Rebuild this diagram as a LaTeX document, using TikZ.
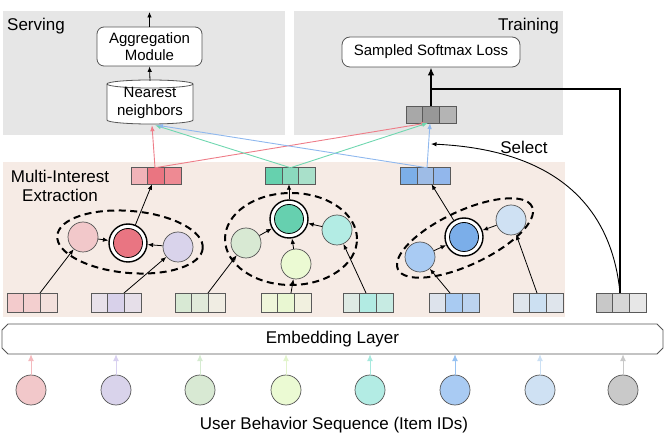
\documentclass[tikz,border=0pt]{standalone}
\usepackage{fontspec}
\setmainfont{Liberation Sans}
\usetikzlibrary{arrows.meta}
\definecolor{graybg}{HTML}{E6E6E6}
\definecolor{peach}{HTML}{F6EBE5}
\definecolor{cellb}{HTML}{5A5A5A}
\definecolor{circb}{HTML}{555555}
\definecolor{pinkc}{HTML}{F2C8CA}
\definecolor{redc}{HTML}{E97582}
\definecolor{lavc}{HTML}{D9D3EB}
\definecolor{lgreen}{HTML}{D8E9D3}
\definecolor{greenc}{HTML}{66D0AF}
\definecolor{ygreen}{HTML}{EBFAD3}
\definecolor{cyanc}{HTML}{B3ECE4}
\definecolor{blueb}{HTML}{A9CBF3}
\definecolor{bluec}{HTML}{7BAEE9}
\definecolor{paleb}{HTML}{CFE1F3}
\definecolor{grayc}{HTML}{C9C9C9}
\definecolor{redl}{HTML}{EE7D88}
\definecolor{greenl}{HTML}{6FD7B0}
\definecolor{bluel}{HTML}{8FB8EE}
\definecolor{a1}{HTML}{F4B9BD}
\definecolor{a2}{HTML}{D8D0F0}
\definecolor{a3}{HTML}{D5EBD0}
\definecolor{a4}{HTML}{E2F4CC}
\definecolor{a5}{HTML}{A6E9DE}
\definecolor{a6}{HTML}{97C2F2}
\definecolor{a7}{HTML}{CBE0F4}
\definecolor{a8}{HTML}{C8C8C8}
\newcommand{\vthree}[7]{%
  \definecolor{cla}{HTML}{#4}\definecolor{clb}{HTML}{#5}\definecolor{clc}{HTML}{#6}%
  \node[cell,fill=cla,minimum height=#7] at (#2-16.67,#3) {};
  \node[cell,fill=clb,minimum height=#7] at (#2,#3) {};
  \node[cell,fill=clc,minimum height=#7] at (#2+16.67,#3) {};
  \node[vbox,minimum height=#7] (#1) at (#2,#3) {};}
\begin{document}
\begin{tikzpicture}[x=1pt,y=-1pt,
  cell/.style={draw=cellb, line width=0.8pt, minimum width=16.67pt, inner sep=0pt, outer sep=0pt},
  vbox/.style={minimum width=50pt, inner sep=0pt, outer sep=0pt},
  circ/.style={circle, draw=circb, line width=0.7pt, minimum size=30pt, inner sep=0pt},
  dout/.style={circle, draw=black, line width=1.4pt, fill=white, minimum size=38pt, inner sep=0pt},
  din/.style={circle, draw=black, line width=0.8pt, minimum size=29pt, inner sep=0pt},
  arr/.style={-{Latex[length=5.5pt,width=4.5pt]}, line width=0.8pt},
  carr/.style={-{Latex[length=6pt,width=4.5pt]}, line width=0.9pt},
  barr/.style={-{Latex[length=7pt,width=6pt]}, line width=1pt},
  dashell/.style={line width=2pt, dash pattern=on 7pt off 4.5pt},
  lab/.style={font=\fontsize{17}{18.5}\selectfont, inner sep=0pt},
  btxt/.style={font=\fontsize{15}{17.5}\selectfont, align=center, inner sep=0pt},
  rbox/.style={draw=circb, line width=0.8pt, rounded corners=7pt, fill=white, align=center, font=\fontsize{15}{17.5}\selectfont, inner sep=0pt}]
\useasboundingbox (0,0) rectangle (664,443);
% backgrounds
\fill[graybg] (3,11) rectangle (285,135);
\fill[graybg] (294,11) rectangle (563,135);
\fill[peach] (3,162) rectangle (565,317);
\node[lab, anchor=west] (serv) at (7,26) {Serving};
\node[lab, anchor=east] (train) at (559,26) {Training};
\node[lab, align=center] (mie) at (60,186) {Multi-Interest\\Extraction};
% serving
\node[rbox, minimum width=105pt, minimum height=39pt] (agg) at (149.5,46.5) {Aggregation\\Module};
\coordinate (aggout) at (149.5,12);
\draw[arr] (agg.north) -- (aggout);
\draw[fill=white, draw=circb, line width=0.8pt] (107,84) -- (107,120) arc[start angle=180, end angle=360, x radius=43pt, y radius=4pt] -- (193,84) arc[start angle=0, end angle=180, x radius=43pt, y radius=4pt] -- cycle;
\draw[draw=circb, line width=0.8pt] (107,84) arc[start angle=180, end angle=360, x radius=43pt, y radius=4pt];
\node[btxt, minimum width=86pt, minimum height=44pt] (nn) at (150,103) {Nearest\\neighbors};
\draw[arr] (nn.north) -- (agg.south);
% training
\node[rbox, minimum width=178pt, minimum height=30pt, rounded corners=8pt] (sm) at (431,52) {Sampled Softmax Loss};
\vthree{tv}{431}{114.5}{A8A8A8}{989898}{B4B4B4}{17pt}
% interest vectors
\vthree{rv}{156}{176}{F1B3B8}{EA7581}{EE8A93}{16.5pt}
\vthree{gv}{290.5}{176}{66D1AE}{8BD9BE}{A9E0CA}{16.5pt}
\vthree{bv}{425.5}{176}{7CAFE8}{9EBCE6}{92B7EC}{16.5pt}
% cross lines
\draw[carr, redl] ([xshift=-1pt]rv.north) -- ([xshift=2pt]nn.south);
\draw[carr, redl] ([xshift=-1pt]rv.north) -- ([xshift=-4pt]tv.south);
\draw[carr, greenl] (gv.north) -- ([xshift=5pt]nn.south);
\draw[carr, greenl] (gv.north) -- ([xshift=-3pt]tv.south);
\draw[carr, bluel] ([xshift=1.5pt]bv.north) -- ([xshift=7pt]nn.south);
\draw[carr, bluel] ([xshift=1.5pt]bv.north) -- ([xshift=-1pt]tv.south);
% dashed ellipses
\draw[dashell, rotate around={-5:(130,242)}] (130,242) ellipse[x radius=73pt, y radius=31pt];
\draw[dashell] (291,239) ellipse[x radius=66pt, y radius=46pt];
\draw[dashell, rotate around={25:(465,238)}] (465,238) ellipse[x radius=74pt, y radius=27pt];
% group 1
\node[circ, fill=pinkc] (pk) at (83,237) {};
\node[dout] (rc) at (128,243) {};
\node[din, fill=redc] (rci) at (128,243) {};
\node[circ, fill=lavc] (lv) at (178,247) {};
% group 2
\node[dout] (gc) at (289,219) {};
\node[din, fill=greenc] (gci) at (289,219) {};
\node[circ, fill=lgreen] (lg) at (246,243) {};
\node[circ, fill=ygreen] (yg) at (296,264) {};
\node[circ, fill=cyanc] (cy) at (337,230) {};
% group 3
\node[dout] (bc) at (464,237) {};
\node[din, fill=bluec] (bci) at (464,237) {};
\node[circ, fill=blueb] (lb) at (420,257) {};
\node[circ, fill=paleb] (pb) at (511,220) {};
% input vectors
\vthree{v1}{32}{302.5}{F3CBCC}{F3CFCF}{F3E0DC}{19pt}
\vthree{v2}{116}{302.5}{E8E1EA}{D8D1EA}{E6DFE9}{19pt}
\vthree{v3}{200}{302.5}{D8E9D4}{E1EADA}{F0EDE3}{19pt}
\vthree{v4}{286}{302.5}{EFF6DA}{E9F7D2}{F1F0DF}{19pt}
\vthree{v5}{368}{302.5}{DEEAE4}{B2EBE3}{C7EBE3}{19pt}
\vthree{v6}{454}{302.5}{DDE3EC}{A9CBF2}{BCD3EF}{19pt}
\vthree{v7}{538}{302.5}{DFE5EC}{CCE0F2}{DFE5EC}{19pt}
\vthree{v8}{621}{302.5}{C8C8C8}{D7D7D7}{E7E7E7}{19pt}
% arrows in groups
\draw[arr] ([xshift=8pt]v1.north) -- (pk);
\draw[arr] ([xshift=8pt]v2.north) -- (lv);
\draw[arr] (pk) -- (rc);
\draw[arr] (lv) -- (rc);
\draw[arr] (rc) -- ([xshift=-4pt]rv.south);
\draw[arr] ([xshift=8pt]v3.north) -- (lg);
\draw[arr] ([xshift=5pt]v4.north) -- (yg);
\draw[arr] ([xshift=-2pt]v5.north) -- (cy);
\draw[arr] (lg) -- (gc);
\draw[arr] (yg) -- (gc);
\draw[arr] (cy) -- (gc);
\draw[arr] (gc) -- ([xshift=-1.5pt]gv.south);
\draw[arr] ([xshift=-4pt]v6.north) -- (lb);
\draw[arr] ([xshift=-1pt]v7.north) -- (pb);
\draw[arr] (lb) -- (bc);
\draw[arr] (pb) -- (bc);
\draw[arr] (bc) -- ([xshift=6pt]bv.south);
% training path
\coordinate (tj) at (431,89);
\draw[line width=1.1pt] ([xshift=-1pt]v8.north) |- (tj);
\draw[line width=1.8pt, -{Latex[length=8pt,width=6.5pt]}] (tv.north) -- (sm.south);
\coordinate (selend) at (431,144);
\draw[arr, line width=0.9pt] ([xshift=-1pt]v8.north) .. controls (612,210) and (560,150) .. (selend);
\node[lab] (sel) at (524,147) {Select};
% embedding layer
\draw[draw=circb, line width=0.8pt, fill=white] (2,330) -- (8,324) -- (657,324) -- (663,330) -- (663,348) -- (657,354) -- (8,354) -- (2,348) -- cycle;
\node[lab, minimum width=661pt, minimum height=30pt] (emb) at (332.5,339) {Embedding Layer};
% item circles
\foreach \n/\x/\c/\a in {1/31/pinkc/a1, 2/116/lavc/a2, 3/200/lgreen/a3, 4/286/ygreen/a4, 5/370/cyanc/a5, 6/455/blueb/a6, 7/540/paleb/a7, 8/623/grayc/a8}{
  \node[circ, fill=\c] (i\n) at (\x,390) {};
  \draw[barr, \a] (i\n.north) -- (i\n.north |- emb.south);
}
\node[lab] (ubs) at (334,425) {User Behavior Sequence (Item IDs)};
\end{tikzpicture}
\end{document}
